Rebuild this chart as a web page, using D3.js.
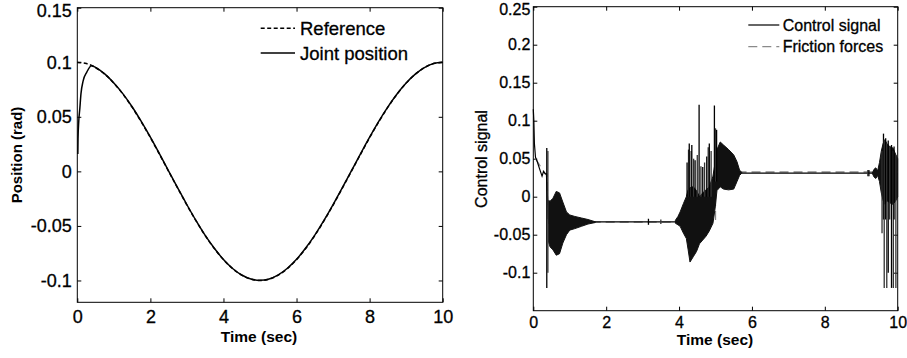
<!DOCTYPE html>
<html>
<head>
<meta charset="utf-8">
<script src="https://cdn.jsdelivr.net/npm/d3@7"></script>
<style>
  html, body { margin: 0; padding: 0; background: #fff; }
  svg { display: block; font-family: "Liberation Sans", Arial, sans-serif; }
  .heavy { stroke: #000; stroke-width: 0.3px; }
</style>
</head>
<body>
<svg id="chart" width="907" height="358"></svg>
<script>
// ---------------- DATA ----------------
// Left panel: position tracking
const refTime = [0,0.25,0.5,0.75,1,1.25,1.5,1.75,2,2.25,2.5,2.75,3,3.25,3.5,3.75,4,4.25,4.5,4.75,5,
                 5.25,5.5,5.75,6,6.25,6.5,6.75,7,7.25,7.5,7.75,8,8.25,8.5,8.75,9,9.25,9.5,9.75,10];
const refValue = [0.1,0.0988,0.0951,0.0891,0.0809,0.0707,0.0588,0.0454,0.0309,0.0156,0,-0.0156,-0.0309,-0.0454,-0.0588,-0.0707,-0.0809,-0.0891,-0.0951,-0.0988,-0.1,
                  -0.0988,-0.0951,-0.0891,-0.0809,-0.0707,-0.0588,-0.0454,-0.0309,-0.0156,0,0.0156,0.0309,0.0454,0.0588,0.0707,0.0809,0.0891,0.0951,0.0988,0.1];
const jointTime = [0.015,0.02,0.04,0.07,0.1,0.16,0.26,0.39,0.5,0.75,1,1.25,1.5,1.75,2,2.25,2.5,2.75,3,3.25,3.5,3.75,4,4.25,4.5,4.75,5,
                   5.25,5.5,5.75,6,6.25,6.5,6.75,7,7.25,7.5,7.75,8,8.25,8.5,8.75,9,9.25,9.5,9.75,10];
const jointValue = [0.016,0.03,0.046,0.058,0.071,0.083,0.091,0.0968,0.0952,0.0893,0.0810,0.0710,0.0592,0.0458,0.0314,0.0160,0.0003,-0.0153,-0.0306,-0.0452,-0.0587,-0.0705,-0.0808,-0.0890,-0.0950,-0.0987,-0.0999,
                    -0.0987,-0.0949,-0.0888,-0.0806,-0.0703,-0.0584,-0.0450,-0.0305,-0.0152,0.0004,0.0160,0.0313,0.0458,0.0591,0.0709,0.0810,0.0891,0.0951,0.0988,0.1];
const leftXTicks = [0,2,4,6,8,10];
const leftXLabels = ["0","2","4","6","8","10"];
const leftYTicks = [-0.1,-0.05,0,0.05,0.1,0.15];
const leftYLabels = ["-0.1","-0.05","0","0.05","0.1","0.15"];
const leftLegend = ["Reference","Joint position"];

// Right panel: control signal and friction forces
const ctrlTime  = [0,0.015,0.03,0.06,0.11,0.17,0.24,0.28,0.33,0.36,0.42,1.7,3.9,4.5,5.0,5.3,5.72,9.3,9.6,10];
const ctrlValue = [0.115,0.1,0.07,0.052,0.046,0.037,0.027,0.033,0.030,0.030,-0.035,-0.033,-0.033,-0.03,0.02,0.04,0.031,0.031,0.03,0.03];

const band1Time  = [0.42,0.46,0.54,0.63,0.72,0.81,0.91,1.0,1.14,1.32,1.5,1.7];
const band1Upper = [-0.005,-0.006,-0.002,0.007,0.005,-0.007,-0.02,-0.024,-0.026,-0.028,-0.03,-0.033];
const band1Lower = [-0.06,-0.066,-0.07,-0.077,-0.075,-0.061,-0.05,-0.044,-0.042,-0.039,-0.036,-0.034];

const band2Time  = [3.9,3.97,4.03,4.12,4.2,4.25,4.3,4.39,4.48,4.56,4.65,4.74,4.83,4.93,4.99,5.04,5.13,5.22,5.36,5.5,5.59,5.66,5.72];
const band2Upper = [-0.031,-0.026,-0.02,-0.009,0.0,0.009,0.012,0.013,0.008,0.0,0.005,0.009,0.013,0.027,0.045,0.062,0.072,0.068,0.062,0.055,0.046,0.035,0.032];
const band2Lower = [-0.035,-0.037,-0.039,-0.048,-0.055,-0.07,-0.086,-0.079,-0.072,-0.062,-0.057,-0.052,-0.045,-0.035,-0.015,0.008,0.013,0.01,0.009,0.01,0.02,0.028,0.031];

const band3Time  = [9.3,9.35,9.4,9.45,9.5,9.55,9.6,9.65,9.7,9.78,9.87,9.95,10];
const band3Upper = [0.031,0.036,0.038,0.034,0.045,0.06,0.07,0.075,0.07,0.066,0.064,0.055,0.05];
const band3Lower = [0.031,0.026,0.024,0.028,0.02,0.005,-0.005,-0.01,-0.005,-0.008,-0.01,-0.005,0.0];

const spikeTime   = [0.37,0.40,3.16,3.5,4.22,4.26,4.28,4.33,4.35,4.40,4.44,4.50,4.55,4.60,4.65,4.70,4.76,4.80,4.83,4.88,4.97,5.0,5.03,
                     9.18,9.21,9.57,9.61,9.63,9.67,9.70,9.74,9.78,9.83,9.88,9.90,9.95];
const spikeTop    = [0.064,0.06,-0.029,-0.030,0.045,0.062,0.07,0.06,0.068,0.05,0.048,0.055,0.121,0.04,0.039,0.045,0.053,0.065,0.07,0.06,0.12,0.09,0.088,
                     0.035,0.035,0.06,0.083,0.075,0.077,0.07,0.074,0.066,0.068,0.06,0.066,0.055];
const spikeBottom = [-0.12,-0.1,-0.037,-0.036,0.0,0.0,0.0,0.0,0.0,0.0,0.0,0.0,0.0,0.0,0.0,0.0,0.0,0.0,0.0,0.0,0.02,0.02,0.02,
                     0.027,0.027,-0.048,-0.03,-0.12,-0.03,-0.12,-0.1,-0.03,-0.12,-0.12,-0.03,-0.12];

const fricTime  = [0.06,0.33,0.38,0.40,5.0,5.0,10];
const fricValue = [0.05,0.03,0.03,-0.0335,-0.0335,0.0325,0.0325];

const rightXTicks = [0,2,4,6,8,10];
const rightXLabels = ["0","2","4","6","8","10"];
const rightYTicks = [-0.1,-0.05,0,0.05,0.1,0.15,0.2,0.25];
const rightYLabels = ["-0.1","-0.05","0","0.05","0.1","0.15","0.2","0.25"];
const rightLegend = ["Control signal","Friction forces"];

// ---------------- DRAW ----------------
const svg = d3.select("#chart");

function frame(box, xDomain, yDomain, xTicks, xLabels, yTicks, yLabels, fs, xPad, yPad) {
  const x = d3.scaleLinear().domain(xDomain).range([box.x0, box.x1]);
  const y = d3.scaleLinear().domain(yDomain).range([box.y1, box.y0]);
  const g = svg.append("g");
  const mk = (axis, tr, labels, ticks, pad) => {
    const a = axis.tickValues(ticks).tickSize(-4).tickPadding(pad)
      .tickFormat(labels ? ((d, i) => labels[i]) : () => "");
    const ag = g.append("g").attr("transform", tr).call(a);
    ag.select(".domain").remove();
    ag.selectAll("line").attr("stroke", "#000");
    ag.selectAll("text").attr("font-size", fs).attr("fill", "#000").attr("class", "heavy")
      .attr("font-family", "'Liberation Sans', Arial, sans-serif");
    return ag;
  };
  mk(d3.axisBottom(x), `translate(0,${box.y1})`, xLabels, xTicks, xPad);
  mk(d3.axisTop(x), `translate(0,${box.y0})`, null, xTicks, 0);
  const yl = mk(d3.axisLeft(y), `translate(${box.x0},0)`, yLabels, yTicks, yPad);
  // keep the topmost label fully inside the picture
  yl.selectAll("text").filter(d => d === yTicks[yTicks.length - 1]).attr("y", 3);
  mk(d3.axisRight(y), `translate(${box.x1},0)`, null, yTicks, 0);
  g.append("rect").attr("x", box.x0).attr("y", box.y0)
    .attr("width", box.x1 - box.x0).attr("height", box.y1 - box.y0)
    .attr("fill", "none").attr("stroke", "#000").attr("stroke-width", 1);
  return {x, y, g};
}

// ----- Left panel -----
const LB = {x0: 77.3, x1: 442.7, y0: 7.7, y1: 302.3};
const L = frame(LB, [0,10], [-0.12,0.15], leftXTicks, leftXLabels, leftYTicks, leftYLabels, 18, 8, 5.5);

const lineL = (ts, vs) => d3.line().x((d, i) => L.x(ts[i])).y((d, i) => L.y(vs[i])).curve(d3.curveMonotoneX)(ts);

svg.append("path").attr("d", lineL(refTime, refValue))
  .attr("fill", "none").attr("stroke", "#000").attr("stroke-width", 1.5).attr("stroke-dasharray", "4,2.5");
svg.append("path").attr("d", lineL(jointTime, jointValue))
  .attr("fill", "none").attr("stroke", "#000").attr("stroke-width", 1.5);

// left legend
[["4,2.5", 28.3], [null, 53]].forEach(([dash, yy], i) => {
  svg.append("line").attr("x1", 260.7).attr("x2", 295).attr("y1", yy).attr("y2", yy)
    .attr("stroke", "#000").attr("stroke-width", 1.4).attr("stroke-dasharray", dash);
  svg.append("text").attr("x", 300).attr("y", yy + 6.5).attr("font-size", 18.5).attr("class", "heavy")
    .text(leftLegend[i]);
});

svg.append("text").attr("x", 259).attr("y", 342).attr("text-anchor", "middle")
  .attr("font-size", 15.5).attr("font-weight", "bold").text("Time (sec)");
svg.append("text").attr("transform", "translate(22,155) rotate(-90)").attr("text-anchor", "middle")
  .attr("font-size", 15).attr("font-weight", "bold").text("Position (rad)");

// ----- Right panel -----
const RB = {x0: 533.3, x1: 897.7, y0: 6.7, y1: 310.7};
const R = frame(RB, [0,10], [-0.15,0.25], rightXTicks, rightXLabels, rightYTicks, rightYLabels, 16, 6.3, 3);

const lineR = (ts, vs) => d3.line().x((d, i) => R.x(ts[i])).y((d, i) => R.y(vs[i]))(ts);
const areaR = (ts, up, lo) => d3.area().x((d, i) => R.x(ts[i])).y0((d, i) => R.y(lo[i])).y1((d, i) => R.y(up[i]))(ts);

// friction (beneath)
svg.append("path").attr("d", lineR(fricTime, fricValue))
  .attr("fill", "none").attr("stroke", "#8a8a8a").attr("stroke-width", 1.3).attr("stroke-dasharray", "9,5");

// control signal
svg.append("path").attr("d", lineR(ctrlTime, ctrlValue))
  .attr("fill", "none").attr("stroke", "#000").attr("stroke-width", 1.2);
[[band1Time, band1Upper, band1Lower], [band2Time, band2Upper, band2Lower], [band3Time, band3Upper, band3Lower]]
  .forEach(([t, u, l]) => {
    svg.append("path").attr("d", areaR(t, u, l))
      .attr("fill", "#111").attr("stroke", "#111").attr("stroke-width", 1);
  });
svg.append("g").selectAll("line").data(spikeTime).join("line")
  .attr("x1", d => R.x(d)).attr("x2", d => R.x(d))
  .attr("y1", (d, i) => R.y(spikeTop[i])).attr("y2", (d, i) => R.y(spikeBottom[i]))
  .attr("stroke", (d, i) => (i % 2 ? "#333" : "#000")).attr("stroke-width", 1.3);

// right legend
[[null, 25, "#000"], ["9,5", 46.7, "#8a8a8a"]].forEach(([dash, yy, col], i) => {
  svg.append("line").attr("x1", 748.3).attr("x2", 779.3).attr("y1", yy).attr("y2", yy)
    .attr("stroke", col).attr("stroke-width", 1.2).attr("stroke-dasharray", dash);
  svg.append("text").attr("x", 782.7).attr("y", yy + 5.7).attr("font-size", 16).attr("class", "heavy")
    .text(rightLegend[i]);
});

svg.append("text").attr("x", 715).attr("y", 345).attr("text-anchor", "middle")
  .attr("font-size", 15.5).attr("font-weight", "bold").text("Time (sec)");
svg.append("text").attr("transform", "translate(487,159) rotate(-90)").attr("text-anchor", "middle")
  .attr("font-size", 16).attr("class", "heavy").text("Control signal");
</script>
</body>
</html>
